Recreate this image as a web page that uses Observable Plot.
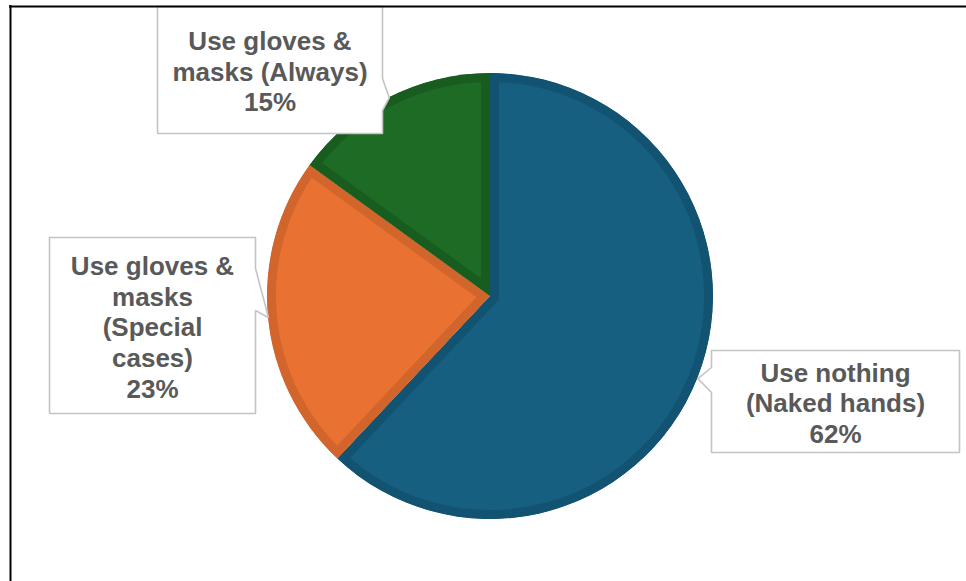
<!DOCTYPE html>
<html><head><meta charset="utf-8">
<script src="https://cdn.jsdelivr.net/npm/d3@7"></script>
<script src="https://cdn.jsdelivr.net/npm/@observablehq/plot@0.6"></script>
<style>
html,body{margin:0;padding:0;background:#fff;}
#chart svg{display:block;}
</style>
</head><body><div id="chart"></div>
<script>
// ---- data ----
const categories = ["Use nothing\n(Naked hands)", "Use gloves &\nmasks\n(Special\ncases)", "Use gloves &\nmasks (Always)"];
const values = [62, 23, 15];
const valueLabels = ["62%", "23%", "15%"];
const fillColors = ["#175F80", "#E97132", "#1D6B25"];
const edgeColors = ["#125372", "#D2652B", "#195C20"];

// ---- layout ----
const W = 966, H = 581;
const pieCenter = {x: 490, y: 296};
const pieRadius = 223;
const borderInset = 9;
const boxes = [
  {x1: 711, x2: 959, y1: 350, y2: 452, side: "left",  n1: 367, n2: 392},
  {x1: 49,  x2: 255, y1: 237, y2: 413, side: "right", n1: 268, n2: 310},
  {x1: 157, x2: 382, y1: 6,   y2: 133, side: "right", n1: 78,  n2: 110}
];

const arcs = d3.pie().sort(null).value(d => d)(values);

// callout polygons pointing at each slice's mid-angle on the rim
const calloutPts = [];
arcs.forEach((a, i) => {
  const mid = (a.startAngle + a.endAngle) / 2;
  const tip = {x: pieCenter.x + pieRadius * Math.sin(mid), y: pieCenter.y - pieRadius * Math.cos(mid)};
  const b = boxes[i];
  let pts;
  if (b.side === "right") {
    pts = [[b.x1,b.y1],[b.x2,b.y1],[b.x2,b.n1],[tip.x,tip.y],[b.x2,b.n2],[b.x2,b.y2],[b.x1,b.y2],[b.x1,b.y1]];
  } else {
    pts = [[b.x1,b.y1],[b.x2,b.y1],[b.x2,b.y2],[b.x1,b.y2],[b.x1,b.n2],[tip.x,tip.y],[b.x1,b.n1],[b.x1,b.y1]];
  }
  pts.forEach(p => calloutPts.push({k: i, x: p[0], y: p[1]}));
});

const labelData = categories.map((c, i) => ({
  text: c + "\n" + valueLabels[i],
  x: (boxes[i].x1 + boxes[i].x2) / 2,
  y: (boxes[i].y1 + boxes[i].y2) / 2 + 1
}));

function pieMark(index, scales) {
  const sx = (scales && scales.x) ? scales.x : (d => d);
  const sy = (scales && scales.y) ? scales.y : (d => d);
  const cx = sx(pieCenter.x), cy = sy(pieCenter.y);
  const r = Math.abs(sx(pieCenter.x + pieRadius) - cx);
  const arc = d3.arc().innerRadius(0).outerRadius(r);
  const g = d3.create("svg:g").attr("transform", `translate(${cx},${cy})`);
  const defs = g.append("defs");
  arcs.forEach((a, i) => {
    const id = "slice-clip-" + i;
    defs.append("clipPath").attr("id", id)
      .append("path").attr("d", arc(a));
    g.append("path")
      .attr("d", arc(a))
      .attr("fill", fillColors[i])
      .attr("stroke", edgeColors[i])
      .attr("stroke-width", borderInset * 2)
      .attr("stroke-linejoin", "miter")
      .attr("clip-path", `url(#${id})`);
  });
  return g.node();
}

const chart = Plot.plot({
  width: W,
  height: H,
  margin: 0,
  x: {domain: [0, W], range: [0, W], axis: null},
  y: {domain: [0, H], range: [0, H], axis: null},
  style: {background: "white", fontFamily: "'Liberation Sans', Arial, sans-serif"},
  marks: [
    pieMark,
    Plot.line(calloutPts, {x: "x", y: "y", z: "k", fill: "white", stroke: "#C4C4C4", strokeWidth: 1.6, strokeLinejoin: "miter"}),
    Plot.text(labelData, {x: "x", y: "y", text: "text", fontSize: 26, fontWeight: "bold", fill: "#595959", lineHeight: 1.18, fontFamily: "'Liberation Sans', Arial, sans-serif"}),
    Plot.ruleY([6], {x1: 9, x2: W, stroke: "black", strokeWidth: 2}),
    Plot.ruleX([10], {y1: 5, y2: H, stroke: "black", strokeWidth: 2})
  ]
});
document.getElementById("chart").appendChild(chart);
</script>
</body></html>
